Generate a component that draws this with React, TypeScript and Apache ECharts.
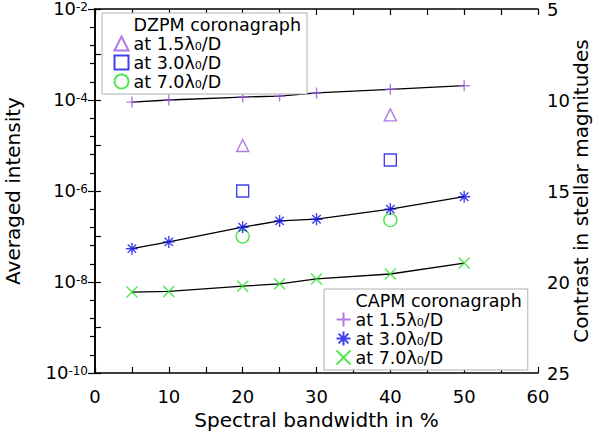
import { useEffect, useRef } from "react";
import * as echarts from "echarts";

// spectral bandwidth (%) of the measured points
const capmBandwidth = [5, 10, 20, 25, 30, 40, 50];
const dzpmBandwidth = [20, 40];

// averaged intensity
const capm15 = [9.0e-5, 1.0e-4, 1.16e-4, 1.22e-4, 1.43e-4, 1.72e-4, 2.06e-4];
const capm30 = [5.4e-8, 7.6e-8, 1.6e-7, 2.2e-7, 2.4e-7, 4.0e-7, 7.5e-7];
const capm70 = [6.0e-9, 6.2e-9, 8.1e-9, 9.1e-9, 1.17e-8, 1.5e-8, 2.6e-8];
const dzpm15 = [1.0e-5, 4.7e-5];
const dzpm30 = [1.0e-6, 4.8e-6];
const dzpm70 = [1.0e-7, 2.3e-7];

const separations = ["1.5", "3.0", "7.0"];

const PURPLE = "#9b59dc";
const BLUE = "#1010e8";
const GREEN = "#28e028";
const FONT = "DejaVu Sans";

const PLUS = "path://M0,5L10,5M5,0L5,10";
const STAR = "path://M0,5L10,5M5,0L5,10M1.5,1.5L8.5,8.5M1.5,8.5L8.5,1.5";
const CROSS = "path://M0,0L10,10M0,10L10,0";

const pair = (xs: number[], ys: number[]) => xs.map((x, i) => [x, ys[i]]);

const labelOf = (name: string) => {
  const m = name.match(/(\d\.\d)$/);
  if (!m) return name;
  return "at " + m[1] + "λ₀/D";
};

export default function App() {
  const chartRef = useRef<HTMLDivElement>(null);

  useEffect(() => {
    if (!chartRef.current) return;
    const chart = echarts.init(chartRef.current, null, { renderer: "svg" });

    const tickStyle = { show: true, inside: true, length: 6, lineStyle: { color: "#000", width: 1.2 } };
    const axisLine = { show: true, lineStyle: { color: "#000", width: 1.6 } };
    const tickRich = {
      b: { fontFamily: FONT, fontSize: 18, color: "#000", verticalAlign: "bottom" as const, lineHeight: 17 },
      sup: { fontFamily: FONT, fontSize: 12, color: "#000", verticalAlign: "top" as const, lineHeight: 12 },
    };
    const titleStyle = { fontFamily: FONT, fontSize: 20, color: "#000" };
    const labelStyle = { fontFamily: FONT, fontSize: 18, color: "#000" };

    const scatter = (name: string, xs: number[], ys: number[], symbol: string, color: string, size: number) => ({
      name,
      type: "scatter",
      data: pair(xs, ys),
      symbol,
      symbolSize: size,
      itemStyle: { color: "none", borderColor: color, borderWidth: 1.4 },
      z: 3,
    });

    const line = (ys: number[]) => ({
      type: "line",
      data: pair(capmBandwidth, ys),
      symbol: "none",
      lineStyle: { color: "#000", width: 1.3 },
      z: 2,
    });

    const legendBase = {
      orient: "vertical" as const,
      selectedMode: false,
      borderColor: "#b0b0b0",
      borderWidth: 1,
      borderRadius: 0,
      backgroundColor: "#fff",
      itemWidth: 14,
      itemHeight: 14,
      itemGap: 0,
      padding: [3, 6, 3, 10],
      formatter: labelOf,
      textStyle: { fontFamily: FONT, fontSize: 17.5, color: "#000", lineHeight: 18 },
    };

    chart.setOption({
      animation: false,
      backgroundColor: "#fff",
      grid: { left: 95, right: 62, top: 9, bottom: 63, outerBoundsMode: "none" },
      legend: [
        {
          ...legendBase,
          left: 102,
          top: 13,
          data: [
            { name: "DZPM coronagraph", icon: "rect", itemStyle: { opacity: 0 } },
            { name: "DZPM " + separations[0], icon: "triangle" },
            { name: "DZPM " + separations[1], icon: "rect" },
            { name: "DZPM " + separations[2], icon: "circle" },
          ],
        },
        {
          ...legendBase,
          left: 324,
          top: 289,
          data: [
            { name: "CAPM coronagraph", icon: "rect", itemStyle: { opacity: 0 } },
            { name: "CAPM " + separations[0], icon: PLUS },
            { name: "CAPM " + separations[1], icon: STAR },
            { name: "CAPM " + separations[2], icon: CROSS },
          ],
        },
      ],
      xAxis: [
        {
          type: "value",
          position: "bottom",
          min: 0,
          max: 60,
          interval: 10,
          axisLine,
          axisTick: tickStyle,
          minorTick: { show: true, splitNumber: 2, length: 6, lineStyle: { color: "#000", width: 1.2 } },
          splitLine: { show: false },
          axisLabel: { ...labelStyle, margin: 14 },
          name: "Spectral bandwidth in %",
          nameLocation: "middle",
          nameGap: 36,
          nameTextStyle: titleStyle,
        },
        {
          type: "value",
          position: "top",
          min: 0,
          max: 60,
          interval: 10,
          axisLine,
          axisTick: tickStyle,
          minorTick: { show: true, splitNumber: 2, length: 6, lineStyle: { color: "#000", width: 1.2 } },
          splitLine: { show: false },
          axisLabel: { show: false },
        },
      ],
      yAxis: [
        {
          type: "log",
          logBase: 10,
          position: "left",
          min: 1e-10,
          max: 1e-2,
          interval: 1,
          axisLine,
          axisTick: tickStyle,
          splitLine: { show: false },
          axisLabel: {
            margin: 7,
            formatter: (v: number) => {
              const e = Math.round(Math.log10(v));
              return e % 2 === 0 ? "{b|10}{sup|" + e + "}" : "";
            },
            rich: tickRich,
          },
          name: "Averaged intensity",
          nameLocation: "middle",
          nameRotate: 90,
          nameGap: 72,
          nameTextStyle: titleStyle,
        },
        {
          type: "value",
          position: "right",
          min: 5,
          max: 25,
          interval: 5,
          inverse: true,
          axisLine,
          axisTick: { ...tickStyle, length: 7 },
          minorTick: { show: true, splitNumber: 5, length: 5, lineStyle: { color: "#000", width: 1.2 } },
          splitLine: { show: false },
          axisLabel: { ...labelStyle, margin: 9 },
          name: "Contrast in stellar magnitudes",
          nameLocation: "middle",
          nameRotate: 90,
          nameGap: 33,
          nameMoveOverlap: false,
          nameTextStyle: titleStyle,
        },
      ],
      series: [
        line(capm15),
        line(capm30),
        line(capm70),
        { name: "DZPM coronagraph", type: "scatter", data: [], symbol: "rect", itemStyle: { color: "rgba(0,0,0,0)" } },
        { name: "CAPM coronagraph", type: "scatter", data: [], symbol: "rect", itemStyle: { color: "rgba(0,0,0,0)" } },
        scatter("DZPM " + separations[0], dzpmBandwidth, dzpm15, "triangle", PURPLE, 12),
        scatter("DZPM " + separations[1], dzpmBandwidth, dzpm30, "rect", BLUE, 12),
        scatter("DZPM " + separations[2], dzpmBandwidth, dzpm70, "circle", GREEN, 13),
        scatter("CAPM " + separations[0], capmBandwidth, capm15, PLUS, PURPLE, 11),
        scatter("CAPM " + separations[1], capmBandwidth, capm30, STAR, BLUE, 12),
        scatter("CAPM " + separations[2], capmBandwidth, capm70, CROSS, GREEN, 11),
      ],
    });

    return () => chart.dispose();
  }, []);

  return (
    <div
      ref={chartRef}
      style={{ position: "fixed", left: 0, top: 0, width: 600, height: 436, background: "#fff" }}
    />
  );
}
